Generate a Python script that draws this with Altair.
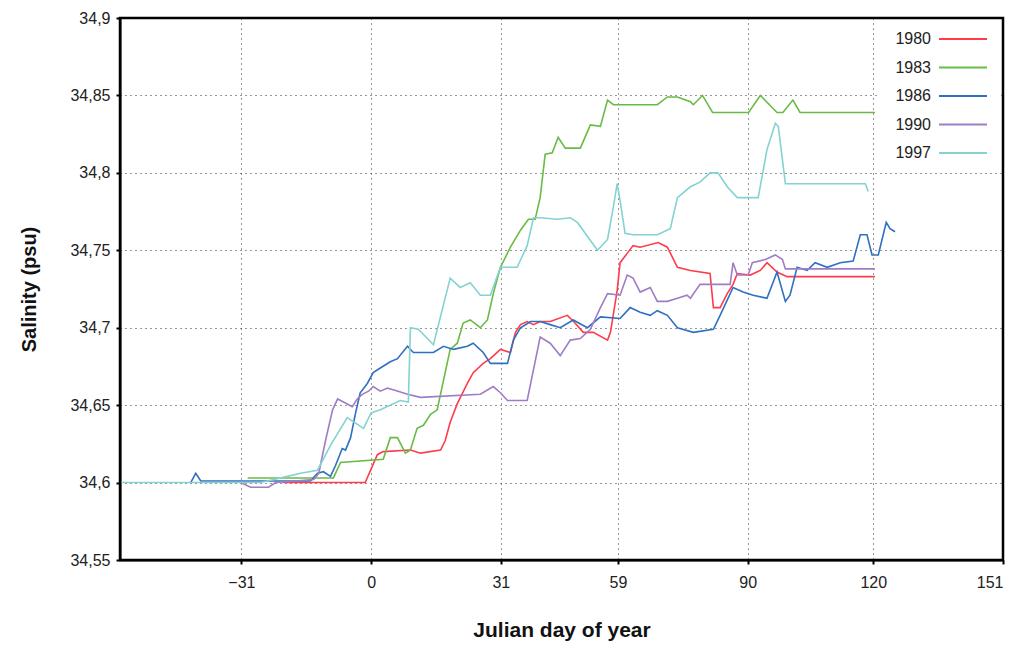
import altair as alt
import pandas as pd

years = ["1980", "1983", "1986", "1990", "1997"]
colors = ["#ff3b4b", "#69bb45", "#2f70c0", "#a07cc6", "#84d2d2"]

day_1980 = [-21.2, -1.4, 1.5, 2.9, 9.4, 11.8, 16.6, 17.7, 18.9, 20.6, 23.0, 24.4, 26.8, 28.5, 30.9, 33.3,
            34.5, 35.7, 37.3, 38.8, 40.4, 42.8, 46.9, 48.4, 50.7, 53.1, 56.5, 57.2, 58.8, 59.5, 61.2, 62.6,
            64.3, 68.6, 70.8, 73.2, 76.3, 81.0, 81.8, 83.4, 85.1, 86.5, 87.5, 90.6, 93.0, 94.6, 97.0, 99.4, 120.4]
sal_1980 = [34.600, 34.600, 34.618, 34.620, 34.621, 34.619, 34.621, 34.627, 34.639, 34.651, 34.664, 34.671,
            34.677, 34.680, 34.686, 34.684, 34.697, 34.702, 34.704, 34.702, 34.704, 34.704, 34.708, 34.704,
            34.697, 34.697, 34.692, 34.697, 34.724, 34.742, 34.748, 34.753, 34.752, 34.755, 34.752, 34.739,
            34.737, 34.735, 34.713, 34.713, 34.722, 34.728, 34.735, 34.734, 34.737, 34.742, 34.736, 34.733, 34.733]

day_1983 = [-29.5, -16.9, -9.0, -7.3, 2.9, 4.6, 6.3, 8.2, 9.4, 11.0, 12.5, 14.2, 15.8, 17.3, 18.9, 20.6,
            22.0, 23.7, 26.1, 27.8, 29.2, 30.9, 33.3, 35.7, 37.6, 39.2, 40.4, 41.6, 43.3, 44.7, 46.4, 50.0,
            52.4, 54.8, 56.5, 57.9, 68.4, 70.8, 73.2, 76.3, 77.0, 79.2, 81.6, 90.2, 93.0, 97.0, 98.4, 100.8,
            102.5, 120.4]
sal_1983 = [34.603, 34.603, 34.603, 34.613, 34.615, 34.629, 34.629, 34.619, 34.621, 34.635, 34.637, 34.644,
            34.647, 34.666, 34.686, 34.690, 34.703, 34.705, 34.700, 34.705, 34.722, 34.739, 34.752, 34.763,
            34.770, 34.770, 34.784, 34.812, 34.813, 34.823, 34.816, 34.816, 34.831, 34.830, 34.847, 34.844,
            34.844, 34.849, 34.849, 34.846, 34.844, 34.850, 34.839, 34.839, 34.850, 34.839, 34.839, 34.847,
            34.839, 34.839]

day_1986 = [-43.1, -41.9, -40.7, -14.5, -12.8, -11.4, -9.7, -8.5, -6.9, -6.1, -4.9, -3.7, -2.6, -0.9, 0.5,
            2.2, 4.6, 6.3, 8.7, 10.1, 12.5, 14.9, 17.3, 19.7, 23.0, 24.4, 26.8, 28.5, 32.6, 34.0, 35.7, 38.1,
            40.4, 42.8, 45.2, 48.3, 51.7, 54.8, 59.5, 61.9, 64.3, 66.7, 68.4, 70.8, 73.2, 77.0, 81.8, 83.4,
            86.5, 88.9, 91.3, 94.6, 97.0, 99.0, 100.1, 101.8, 104.2, 106.1, 109.0, 112.1, 115.2, 116.9, 118.5,
            119.7, 121.2, 122.1, 123.1, 124.0, 125.2]
sal_1986 = [34.600, 34.606, 34.601, 34.601, 34.606, 34.607, 34.604, 34.611, 34.622, 34.621, 34.629, 34.645,
            34.658, 34.664, 34.671, 34.674, 34.678, 34.680, 34.688, 34.684, 34.684, 34.684, 34.688, 34.686,
            34.688, 34.690, 34.684, 34.677, 34.677, 34.692, 34.700, 34.704, 34.704, 34.702, 34.700, 34.705,
            34.700, 34.707, 34.706, 34.713, 34.710, 34.708, 34.711, 34.708, 34.700, 34.697, 34.699, 34.708,
            34.726, 34.723, 34.721, 34.719, 34.736, 34.717, 34.721, 34.739, 34.737, 34.742, 34.739, 34.742,
            34.743, 34.760, 34.760, 34.747, 34.747, 34.757, 34.768, 34.764, 34.762]

day_1990 = [-31.2, -28.8, -24.5, -22.8, -13.7, -12.5, -10.9, -9.2, -8.0, -6.6, -4.5, -3.3, -2.1, -0.6, 0.5,
            2.2, 3.9, 5.3, 8.7, 11.8, 26.1, 29.2, 30.9, 32.6, 37.3, 40.4, 42.8, 45.2, 47.6, 50.0, 52.4, 54.8,
            56.5, 59.5, 61.2, 62.6, 64.3, 66.7, 68.4, 70.8, 73.2, 75.5, 76.3, 78.6, 85.8, 86.5, 87.5, 90.1,
            91.1, 94.2, 96.6, 98.3, 99.0, 120.4]
sal_1990 = [34.600, 34.597, 34.597, 34.600, 34.602, 34.606, 34.627, 34.647, 34.654, 34.652, 34.649, 34.654,
            34.657, 34.659, 34.662, 34.659, 34.661, 34.660, 34.657, 34.655, 34.657, 34.662, 34.658, 34.653,
            34.653, 34.694, 34.690, 34.682, 34.692, 34.693, 34.699, 34.713, 34.722, 34.721, 34.734, 34.732,
            34.723, 34.726, 34.717, 34.717, 34.719, 34.721, 34.719, 34.728, 34.728, 34.742, 34.734, 34.734,
            34.742, 34.744, 34.747, 34.744, 34.738, 34.738]

day_1997 = [-60.0, -26.4, -20.0, -16.9, -12.8, -9.7, -5.7, -1.8, 0.0, 2.2, 7.0, 8.9, 9.4, 11.3, 14.9, 18.9,
            21.3, 23.7, 26.1, 28.5, 30.9, 34.9, 37.3, 38.8, 40.4, 44.5, 47.6, 49.3, 54.1, 56.5, 57.9, 58.8,
            59.5, 60.7, 62.6, 68.4, 71.5, 73.2, 76.3, 78.6, 81.0, 82.9, 85.1, 87.5, 92.5, 94.6, 96.6, 97.3,
            99.0, 118.1, 118.8]
sal_1997 = [34.600, 34.600, 34.604, 34.606, 34.608, 34.624, 34.642, 34.635, 34.645, 34.647, 34.653, 34.652,
            34.700, 34.699, 34.689, 34.732, 34.726, 34.729, 34.721, 34.721, 34.739, 34.739, 34.753, 34.771,
            34.771, 34.770, 34.771, 34.768, 34.750, 34.757, 34.778, 34.793, 34.782, 34.761, 34.760, 34.760,
            34.764, 34.784, 34.791, 34.794, 34.800, 34.800, 34.791, 34.784, 34.784, 34.815, 34.832, 34.830,
            34.793, 34.793, 34.788]

x_ticks = [-31, 0, 31, 59, 90, 120, 151]
y_ticks = [34.55, 34.6, 34.65, 34.7, 34.75, 34.8, 34.85, 34.9]

series = {
    "1980": (day_1980, sal_1980),
    "1983": (day_1983, sal_1983),
    "1986": (day_1986, sal_1986),
    "1990": (day_1990, sal_1990),
    "1997": (day_1997, sal_1997),
}
rows = []
for yr, (ds, ss) in series.items():
    for i, (d, s) in enumerate(zip(ds, ss)):
        rows.append({"year": yr, "day": d, "salinity": s, "order": i})
df = pd.DataFrame(rows)

FONT = "Liberation Sans"
color_scale = alt.Scale(domain=years, range=colors)

lines = alt.Chart(df).mark_line(strokeWidth=1.6, clip=True).encode(
    x=alt.X("day:Q",
            scale=alt.Scale(domain=[-60, 151], nice=False, zero=False),
            axis=alt.Axis(values=x_ticks, title="Julian day of year", format="d",
                          grid=True, gridDash=[1, 4], gridColor="#333", gridWidth=1,
                          domainColor="black", domainWidth=2, tickColor="black", tickWidth=2, tickSize=4,
                          labelFont=FONT, labelFontSize=16, labelColor="#222", labelPadding=10,
                          titleFont=FONT, titleFontSize=21, titleFontWeight="bold", titleColor="#111",
                          titlePadding=29)),
    y=alt.Y("salinity:Q",
            scale=alt.Scale(domain=[34.55, 34.9], nice=False, zero=False),
            axis=alt.Axis(values=y_ticks, title="Salinity (psu)",
                          labelExpr="replace(format(datum.value, '.2~f'), '.', ',')",
                          grid=True, gridDash=[1, 4], gridColor="#333", gridWidth=1,
                          domainColor="black", domainWidth=2, tickColor="black", tickWidth=2, tickSize=4,
                          labelFont=FONT, labelFontSize=16, labelColor="#222", labelPadding=6,
                          titleFont=FONT, titleFontSize=20, titleFontWeight="bold", titleColor="#111",
                          titlePadding=30)),
    color=alt.Color("year:N", scale=color_scale, legend=None),
    detail="year:N",
    order="order:Q",
)

legend_df = pd.DataFrame({"year": years})
legend_y = alt.Y("year:N", scale=alt.Scale(type="point", domain=years, range=[21, 135], padding=0), axis=None)

legend_bg = alt.Chart(pd.DataFrame({"a": [0]})).mark_rect(fill="white").encode(
    x=alt.value(758), x2=alt.value(881), y=alt.value(4), y2=alt.value(152)
)
frame = alt.Chart(pd.DataFrame({"a": [0]})).mark_rect(fill=None, stroke="black", strokeWidth=2.5).encode(
    x=alt.value(0), x2=alt.value(883), y=alt.value(0), y2=alt.value(542)
)
legend_text = alt.Chart(legend_df).mark_text(align="right", baseline="middle", font=FONT, fontSize=16,
                                              color="#222").encode(
    x=alt.value(811), y=legend_y, text="year:N"
)
legend_rule = alt.Chart(legend_df).mark_rule(strokeWidth=1.8).encode(
    x=alt.value(819), x2=alt.value(867), y=legend_y,
    color=alt.Color("year:N", scale=color_scale, legend=None)
)

chart = alt.layer(lines, legend_bg, frame, legend_text, legend_rule).resolve_scale(
    y="independent"
).properties(
    width=883, height=542,
    padding={"left": 112, "top": 10, "right": 7, "bottom": 84},
    autosize=alt.AutoSizeParams(type="none"),
    background="white",
).configure_view(stroke="black", strokeWidth=2)

chart.save("out.html", embed_options={"renderer": "svg", "actions": False})
